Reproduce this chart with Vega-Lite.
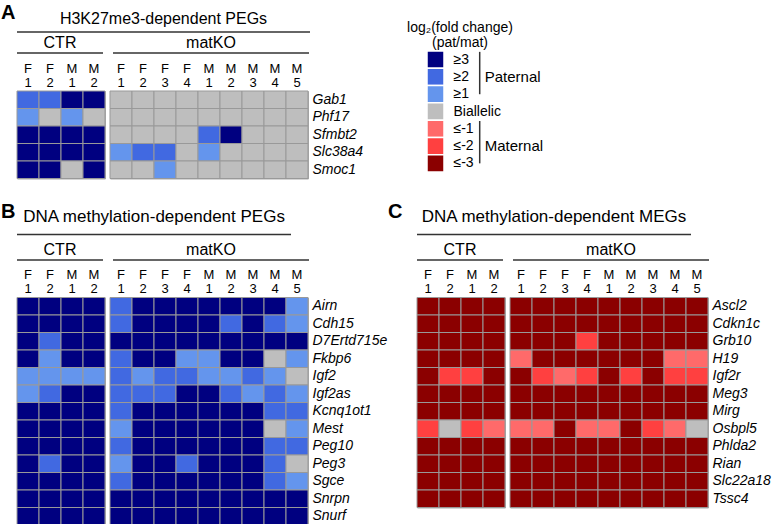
{
"$schema": "https://vega.github.io/schema/vega-lite/v6.json",
"padding": {"left": 1, "top": 3, "right": 5, "bottom": 0},
"config": {"font": "Liberation Sans", "view": {"stroke": null}, "axis": {"labelColor": "black"}, "concat": {"spacing": 0}},
"datasets": {
"cells": [
{"p":"A","g":"CTR","s":"F 1","n":"Gab1","v":2},{"p":"A","g":"CTR","s":"F 2","n":"Gab1","v":2},{"p":"A","g":"CTR","s":"M 1","n":"Gab1","v":3},{"p":"A","g":"CTR","s":"M 2","n":"Gab1","v":3},
{"p":"A","g":"CTR","s":"F 1","n":"Phf17","v":1},{"p":"A","g":"CTR","s":"F 2","n":"Phf17","v":0},{"p":"A","g":"CTR","s":"M 1","n":"Phf17","v":1},{"p":"A","g":"CTR","s":"M 2","n":"Phf17","v":0},
{"p":"A","g":"CTR","s":"F 1","n":"Sfmbt2","v":3},{"p":"A","g":"CTR","s":"F 2","n":"Sfmbt2","v":3},{"p":"A","g":"CTR","s":"M 1","n":"Sfmbt2","v":3},{"p":"A","g":"CTR","s":"M 2","n":"Sfmbt2","v":3},
{"p":"A","g":"CTR","s":"F 1","n":"Slc38a4","v":3},{"p":"A","g":"CTR","s":"F 2","n":"Slc38a4","v":3},{"p":"A","g":"CTR","s":"M 1","n":"Slc38a4","v":3},{"p":"A","g":"CTR","s":"M 2","n":"Slc38a4","v":3},
{"p":"A","g":"CTR","s":"F 1","n":"Smoc1","v":3},{"p":"A","g":"CTR","s":"F 2","n":"Smoc1","v":3},{"p":"A","g":"CTR","s":"M 1","n":"Smoc1","v":0},{"p":"A","g":"CTR","s":"M 2","n":"Smoc1","v":3},
{"p":"A","g":"matKO","s":"F 1","n":"Gab1","v":0},{"p":"A","g":"matKO","s":"F 2","n":"Gab1","v":0},{"p":"A","g":"matKO","s":"F 3","n":"Gab1","v":0},{"p":"A","g":"matKO","s":"F 4","n":"Gab1","v":0},{"p":"A","g":"matKO","s":"M 1","n":"Gab1","v":0},{"p":"A","g":"matKO","s":"M 2","n":"Gab1","v":0},{"p":"A","g":"matKO","s":"M 3","n":"Gab1","v":0},{"p":"A","g":"matKO","s":"M 4","n":"Gab1","v":0},{"p":"A","g":"matKO","s":"M 5","n":"Gab1","v":0},
{"p":"A","g":"matKO","s":"F 1","n":"Phf17","v":0},{"p":"A","g":"matKO","s":"F 2","n":"Phf17","v":0},{"p":"A","g":"matKO","s":"F 3","n":"Phf17","v":0},{"p":"A","g":"matKO","s":"F 4","n":"Phf17","v":0},{"p":"A","g":"matKO","s":"M 1","n":"Phf17","v":0},{"p":"A","g":"matKO","s":"M 2","n":"Phf17","v":0},{"p":"A","g":"matKO","s":"M 3","n":"Phf17","v":0},{"p":"A","g":"matKO","s":"M 4","n":"Phf17","v":0},{"p":"A","g":"matKO","s":"M 5","n":"Phf17","v":0},
{"p":"A","g":"matKO","s":"F 1","n":"Sfmbt2","v":0},{"p":"A","g":"matKO","s":"F 2","n":"Sfmbt2","v":0},{"p":"A","g":"matKO","s":"F 3","n":"Sfmbt2","v":0},{"p":"A","g":"matKO","s":"F 4","n":"Sfmbt2","v":0},{"p":"A","g":"matKO","s":"M 1","n":"Sfmbt2","v":2},{"p":"A","g":"matKO","s":"M 2","n":"Sfmbt2","v":3},{"p":"A","g":"matKO","s":"M 3","n":"Sfmbt2","v":0},{"p":"A","g":"matKO","s":"M 4","n":"Sfmbt2","v":0},{"p":"A","g":"matKO","s":"M 5","n":"Sfmbt2","v":0},
{"p":"A","g":"matKO","s":"F 1","n":"Slc38a4","v":1},{"p":"A","g":"matKO","s":"F 2","n":"Slc38a4","v":2},{"p":"A","g":"matKO","s":"F 3","n":"Slc38a4","v":2},{"p":"A","g":"matKO","s":"F 4","n":"Slc38a4","v":0},{"p":"A","g":"matKO","s":"M 1","n":"Slc38a4","v":1},{"p":"A","g":"matKO","s":"M 2","n":"Slc38a4","v":0},{"p":"A","g":"matKO","s":"M 3","n":"Slc38a4","v":0},{"p":"A","g":"matKO","s":"M 4","n":"Slc38a4","v":0},{"p":"A","g":"matKO","s":"M 5","n":"Slc38a4","v":0},
{"p":"A","g":"matKO","s":"F 1","n":"Smoc1","v":0},{"p":"A","g":"matKO","s":"F 2","n":"Smoc1","v":0},{"p":"A","g":"matKO","s":"F 3","n":"Smoc1","v":1},{"p":"A","g":"matKO","s":"F 4","n":"Smoc1","v":0},{"p":"A","g":"matKO","s":"M 1","n":"Smoc1","v":0},{"p":"A","g":"matKO","s":"M 2","n":"Smoc1","v":0},{"p":"A","g":"matKO","s":"M 3","n":"Smoc1","v":0},{"p":"A","g":"matKO","s":"M 4","n":"Smoc1","v":0},{"p":"A","g":"matKO","s":"M 5","n":"Smoc1","v":0},

{"p":"B","g":"CTR","s":"F 1","n":"Airn","v":3},{"p":"B","g":"CTR","s":"F 2","n":"Airn","v":3},{"p":"B","g":"CTR","s":"M 1","n":"Airn","v":3},{"p":"B","g":"CTR","s":"M 2","n":"Airn","v":3},
{"p":"B","g":"CTR","s":"F 1","n":"Cdh15","v":3},{"p":"B","g":"CTR","s":"F 2","n":"Cdh15","v":3},{"p":"B","g":"CTR","s":"M 1","n":"Cdh15","v":3},{"p":"B","g":"CTR","s":"M 2","n":"Cdh15","v":3},
{"p":"B","g":"CTR","s":"F 1","n":"D7Ertd715e","v":3},{"p":"B","g":"CTR","s":"F 2","n":"D7Ertd715e","v":2},{"p":"B","g":"CTR","s":"M 1","n":"D7Ertd715e","v":3},{"p":"B","g":"CTR","s":"M 2","n":"D7Ertd715e","v":3},
{"p":"B","g":"CTR","s":"F 1","n":"Fkbp6","v":3},{"p":"B","g":"CTR","s":"F 2","n":"Fkbp6","v":1},{"p":"B","g":"CTR","s":"M 1","n":"Fkbp6","v":3},{"p":"B","g":"CTR","s":"M 2","n":"Fkbp6","v":3},
{"p":"B","g":"CTR","s":"F 1","n":"Igf2","v":1},{"p":"B","g":"CTR","s":"F 2","n":"Igf2","v":1},{"p":"B","g":"CTR","s":"M 1","n":"Igf2","v":1},{"p":"B","g":"CTR","s":"M 2","n":"Igf2","v":1},
{"p":"B","g":"CTR","s":"F 1","n":"Igf2as","v":1},{"p":"B","g":"CTR","s":"F 2","n":"Igf2as","v":2},{"p":"B","g":"CTR","s":"M 1","n":"Igf2as","v":3},{"p":"B","g":"CTR","s":"M 2","n":"Igf2as","v":3},
{"p":"B","g":"CTR","s":"F 1","n":"Kcnq1ot1","v":3},{"p":"B","g":"CTR","s":"F 2","n":"Kcnq1ot1","v":3},{"p":"B","g":"CTR","s":"M 1","n":"Kcnq1ot1","v":3},{"p":"B","g":"CTR","s":"M 2","n":"Kcnq1ot1","v":3},
{"p":"B","g":"CTR","s":"F 1","n":"Mest","v":3},{"p":"B","g":"CTR","s":"F 2","n":"Mest","v":3},{"p":"B","g":"CTR","s":"M 1","n":"Mest","v":3},{"p":"B","g":"CTR","s":"M 2","n":"Mest","v":3},
{"p":"B","g":"CTR","s":"F 1","n":"Peg10","v":3},{"p":"B","g":"CTR","s":"F 2","n":"Peg10","v":3},{"p":"B","g":"CTR","s":"M 1","n":"Peg10","v":3},{"p":"B","g":"CTR","s":"M 2","n":"Peg10","v":3},
{"p":"B","g":"CTR","s":"F 1","n":"Peg3","v":3},{"p":"B","g":"CTR","s":"F 2","n":"Peg3","v":2},{"p":"B","g":"CTR","s":"M 1","n":"Peg3","v":3},{"p":"B","g":"CTR","s":"M 2","n":"Peg3","v":3},
{"p":"B","g":"CTR","s":"F 1","n":"Sgce","v":3},{"p":"B","g":"CTR","s":"F 2","n":"Sgce","v":3},{"p":"B","g":"CTR","s":"M 1","n":"Sgce","v":3},{"p":"B","g":"CTR","s":"M 2","n":"Sgce","v":3},
{"p":"B","g":"CTR","s":"F 1","n":"Snrpn","v":3},{"p":"B","g":"CTR","s":"F 2","n":"Snrpn","v":3},{"p":"B","g":"CTR","s":"M 1","n":"Snrpn","v":3},{"p":"B","g":"CTR","s":"M 2","n":"Snrpn","v":3},
{"p":"B","g":"CTR","s":"F 1","n":"Snurf","v":3},{"p":"B","g":"CTR","s":"F 2","n":"Snurf","v":3},{"p":"B","g":"CTR","s":"M 1","n":"Snurf","v":3},{"p":"B","g":"CTR","s":"M 2","n":"Snurf","v":3},
{"p":"B","g":"matKO","s":"F 1","n":"Airn","v":2},{"p":"B","g":"matKO","s":"F 2","n":"Airn","v":3},{"p":"B","g":"matKO","s":"F 3","n":"Airn","v":3},{"p":"B","g":"matKO","s":"F 4","n":"Airn","v":3},{"p":"B","g":"matKO","s":"M 1","n":"Airn","v":3},{"p":"B","g":"matKO","s":"M 2","n":"Airn","v":3},{"p":"B","g":"matKO","s":"M 3","n":"Airn","v":3},{"p":"B","g":"matKO","s":"M 4","n":"Airn","v":3},{"p":"B","g":"matKO","s":"M 5","n":"Airn","v":1},
{"p":"B","g":"matKO","s":"F 1","n":"Cdh15","v":2},{"p":"B","g":"matKO","s":"F 2","n":"Cdh15","v":3},{"p":"B","g":"matKO","s":"F 3","n":"Cdh15","v":3},{"p":"B","g":"matKO","s":"F 4","n":"Cdh15","v":3},{"p":"B","g":"matKO","s":"M 1","n":"Cdh15","v":3},{"p":"B","g":"matKO","s":"M 2","n":"Cdh15","v":2},{"p":"B","g":"matKO","s":"M 3","n":"Cdh15","v":3},{"p":"B","g":"matKO","s":"M 4","n":"Cdh15","v":2},{"p":"B","g":"matKO","s":"M 5","n":"Cdh15","v":1},
{"p":"B","g":"matKO","s":"F 1","n":"D7Ertd715e","v":3},{"p":"B","g":"matKO","s":"F 2","n":"D7Ertd715e","v":3},{"p":"B","g":"matKO","s":"F 3","n":"D7Ertd715e","v":3},{"p":"B","g":"matKO","s":"F 4","n":"D7Ertd715e","v":3},{"p":"B","g":"matKO","s":"M 1","n":"D7Ertd715e","v":3},{"p":"B","g":"matKO","s":"M 2","n":"D7Ertd715e","v":3},{"p":"B","g":"matKO","s":"M 3","n":"D7Ertd715e","v":3},{"p":"B","g":"matKO","s":"M 4","n":"D7Ertd715e","v":3},{"p":"B","g":"matKO","s":"M 5","n":"D7Ertd715e","v":3},
{"p":"B","g":"matKO","s":"F 1","n":"Fkbp6","v":2},{"p":"B","g":"matKO","s":"F 2","n":"Fkbp6","v":3},{"p":"B","g":"matKO","s":"F 3","n":"Fkbp6","v":3},{"p":"B","g":"matKO","s":"F 4","n":"Fkbp6","v":1},{"p":"B","g":"matKO","s":"M 1","n":"Fkbp6","v":1},{"p":"B","g":"matKO","s":"M 2","n":"Fkbp6","v":3},{"p":"B","g":"matKO","s":"M 3","n":"Fkbp6","v":3},{"p":"B","g":"matKO","s":"M 4","n":"Fkbp6","v":0},{"p":"B","g":"matKO","s":"M 5","n":"Fkbp6","v":1},
{"p":"B","g":"matKO","s":"F 1","n":"Igf2","v":2},{"p":"B","g":"matKO","s":"F 2","n":"Igf2","v":1},{"p":"B","g":"matKO","s":"F 3","n":"Igf2","v":2},{"p":"B","g":"matKO","s":"F 4","n":"Igf2","v":2},{"p":"B","g":"matKO","s":"M 1","n":"Igf2","v":1},{"p":"B","g":"matKO","s":"M 2","n":"Igf2","v":1},{"p":"B","g":"matKO","s":"M 3","n":"Igf2","v":2},{"p":"B","g":"matKO","s":"M 4","n":"Igf2","v":1},{"p":"B","g":"matKO","s":"M 5","n":"Igf2","v":0},
{"p":"B","g":"matKO","s":"F 1","n":"Igf2as","v":2},{"p":"B","g":"matKO","s":"F 2","n":"Igf2as","v":2},{"p":"B","g":"matKO","s":"F 3","n":"Igf2as","v":2},{"p":"B","g":"matKO","s":"F 4","n":"Igf2as","v":3},{"p":"B","g":"matKO","s":"M 1","n":"Igf2as","v":3},{"p":"B","g":"matKO","s":"M 2","n":"Igf2as","v":2},{"p":"B","g":"matKO","s":"M 3","n":"Igf2as","v":1},{"p":"B","g":"matKO","s":"M 4","n":"Igf2as","v":2},{"p":"B","g":"matKO","s":"M 5","n":"Igf2as","v":1},
{"p":"B","g":"matKO","s":"F 1","n":"Kcnq1ot1","v":2},{"p":"B","g":"matKO","s":"F 2","n":"Kcnq1ot1","v":3},{"p":"B","g":"matKO","s":"F 3","n":"Kcnq1ot1","v":3},{"p":"B","g":"matKO","s":"F 4","n":"Kcnq1ot1","v":3},{"p":"B","g":"matKO","s":"M 1","n":"Kcnq1ot1","v":3},{"p":"B","g":"matKO","s":"M 2","n":"Kcnq1ot1","v":3},{"p":"B","g":"matKO","s":"M 3","n":"Kcnq1ot1","v":3},{"p":"B","g":"matKO","s":"M 4","n":"Kcnq1ot1","v":2},{"p":"B","g":"matKO","s":"M 5","n":"Kcnq1ot1","v":2},
{"p":"B","g":"matKO","s":"F 1","n":"Mest","v":1},{"p":"B","g":"matKO","s":"F 2","n":"Mest","v":3},{"p":"B","g":"matKO","s":"F 3","n":"Mest","v":3},{"p":"B","g":"matKO","s":"F 4","n":"Mest","v":3},{"p":"B","g":"matKO","s":"M 1","n":"Mest","v":3},{"p":"B","g":"matKO","s":"M 2","n":"Mest","v":3},{"p":"B","g":"matKO","s":"M 3","n":"Mest","v":3},{"p":"B","g":"matKO","s":"M 4","n":"Mest","v":0},{"p":"B","g":"matKO","s":"M 5","n":"Mest","v":1},
{"p":"B","g":"matKO","s":"F 1","n":"Peg10","v":2},{"p":"B","g":"matKO","s":"F 2","n":"Peg10","v":3},{"p":"B","g":"matKO","s":"F 3","n":"Peg10","v":3},{"p":"B","g":"matKO","s":"F 4","n":"Peg10","v":3},{"p":"B","g":"matKO","s":"M 1","n":"Peg10","v":3},{"p":"B","g":"matKO","s":"M 2","n":"Peg10","v":3},{"p":"B","g":"matKO","s":"M 3","n":"Peg10","v":3},{"p":"B","g":"matKO","s":"M 4","n":"Peg10","v":2},{"p":"B","g":"matKO","s":"M 5","n":"Peg10","v":2},
{"p":"B","g":"matKO","s":"F 1","n":"Peg3","v":1},{"p":"B","g":"matKO","s":"F 2","n":"Peg3","v":3},{"p":"B","g":"matKO","s":"F 3","n":"Peg3","v":3},{"p":"B","g":"matKO","s":"F 4","n":"Peg3","v":2},{"p":"B","g":"matKO","s":"M 1","n":"Peg3","v":3},{"p":"B","g":"matKO","s":"M 2","n":"Peg3","v":3},{"p":"B","g":"matKO","s":"M 3","n":"Peg3","v":3},{"p":"B","g":"matKO","s":"M 4","n":"Peg3","v":2},{"p":"B","g":"matKO","s":"M 5","n":"Peg3","v":0},
{"p":"B","g":"matKO","s":"F 1","n":"Sgce","v":2},{"p":"B","g":"matKO","s":"F 2","n":"Sgce","v":3},{"p":"B","g":"matKO","s":"F 3","n":"Sgce","v":3},{"p":"B","g":"matKO","s":"F 4","n":"Sgce","v":3},{"p":"B","g":"matKO","s":"M 1","n":"Sgce","v":3},{"p":"B","g":"matKO","s":"M 2","n":"Sgce","v":3},{"p":"B","g":"matKO","s":"M 3","n":"Sgce","v":3},{"p":"B","g":"matKO","s":"M 4","n":"Sgce","v":2},{"p":"B","g":"matKO","s":"M 5","n":"Sgce","v":1},
{"p":"B","g":"matKO","s":"F 1","n":"Snrpn","v":3},{"p":"B","g":"matKO","s":"F 2","n":"Snrpn","v":3},{"p":"B","g":"matKO","s":"F 3","n":"Snrpn","v":3},{"p":"B","g":"matKO","s":"F 4","n":"Snrpn","v":3},{"p":"B","g":"matKO","s":"M 1","n":"Snrpn","v":3},{"p":"B","g":"matKO","s":"M 2","n":"Snrpn","v":3},{"p":"B","g":"matKO","s":"M 3","n":"Snrpn","v":3},{"p":"B","g":"matKO","s":"M 4","n":"Snrpn","v":3},{"p":"B","g":"matKO","s":"M 5","n":"Snrpn","v":3},
{"p":"B","g":"matKO","s":"F 1","n":"Snurf","v":3},{"p":"B","g":"matKO","s":"F 2","n":"Snurf","v":3},{"p":"B","g":"matKO","s":"F 3","n":"Snurf","v":3},{"p":"B","g":"matKO","s":"F 4","n":"Snurf","v":3},{"p":"B","g":"matKO","s":"M 1","n":"Snurf","v":3},{"p":"B","g":"matKO","s":"M 2","n":"Snurf","v":3},{"p":"B","g":"matKO","s":"M 3","n":"Snurf","v":3},{"p":"B","g":"matKO","s":"M 4","n":"Snurf","v":3},{"p":"B","g":"matKO","s":"M 5","n":"Snurf","v":3},

{"p":"C","g":"CTR","s":"F 1","n":"Ascl2","v":-3},{"p":"C","g":"CTR","s":"F 2","n":"Ascl2","v":-3},{"p":"C","g":"CTR","s":"M 1","n":"Ascl2","v":-3},{"p":"C","g":"CTR","s":"M 2","n":"Ascl2","v":-3},
{"p":"C","g":"CTR","s":"F 1","n":"Cdkn1c","v":-3},{"p":"C","g":"CTR","s":"F 2","n":"Cdkn1c","v":-3},{"p":"C","g":"CTR","s":"M 1","n":"Cdkn1c","v":-3},{"p":"C","g":"CTR","s":"M 2","n":"Cdkn1c","v":-3},
{"p":"C","g":"CTR","s":"F 1","n":"Grb10","v":-3},{"p":"C","g":"CTR","s":"F 2","n":"Grb10","v":-3},{"p":"C","g":"CTR","s":"M 1","n":"Grb10","v":-3},{"p":"C","g":"CTR","s":"M 2","n":"Grb10","v":-3},
{"p":"C","g":"CTR","s":"F 1","n":"H19","v":-3},{"p":"C","g":"CTR","s":"F 2","n":"H19","v":-3},{"p":"C","g":"CTR","s":"M 1","n":"H19","v":-3},{"p":"C","g":"CTR","s":"M 2","n":"H19","v":-3},
{"p":"C","g":"CTR","s":"F 1","n":"Igf2r","v":-3},{"p":"C","g":"CTR","s":"F 2","n":"Igf2r","v":-2},{"p":"C","g":"CTR","s":"M 1","n":"Igf2r","v":-2},{"p":"C","g":"CTR","s":"M 2","n":"Igf2r","v":-3},
{"p":"C","g":"CTR","s":"F 1","n":"Meg3","v":-3},{"p":"C","g":"CTR","s":"F 2","n":"Meg3","v":-3},{"p":"C","g":"CTR","s":"M 1","n":"Meg3","v":-3},{"p":"C","g":"CTR","s":"M 2","n":"Meg3","v":-3},
{"p":"C","g":"CTR","s":"F 1","n":"Mirg","v":-3},{"p":"C","g":"CTR","s":"F 2","n":"Mirg","v":-3},{"p":"C","g":"CTR","s":"M 1","n":"Mirg","v":-3},{"p":"C","g":"CTR","s":"M 2","n":"Mirg","v":-3},
{"p":"C","g":"CTR","s":"F 1","n":"Osbpl5","v":-2},{"p":"C","g":"CTR","s":"F 2","n":"Osbpl5","v":0},{"p":"C","g":"CTR","s":"M 1","n":"Osbpl5","v":-2},{"p":"C","g":"CTR","s":"M 2","n":"Osbpl5","v":-1},
{"p":"C","g":"CTR","s":"F 1","n":"Phlda2","v":-3},{"p":"C","g":"CTR","s":"F 2","n":"Phlda2","v":-3},{"p":"C","g":"CTR","s":"M 1","n":"Phlda2","v":-3},{"p":"C","g":"CTR","s":"M 2","n":"Phlda2","v":-3},
{"p":"C","g":"CTR","s":"F 1","n":"Rian","v":-3},{"p":"C","g":"CTR","s":"F 2","n":"Rian","v":-3},{"p":"C","g":"CTR","s":"M 1","n":"Rian","v":-3},{"p":"C","g":"CTR","s":"M 2","n":"Rian","v":-3},
{"p":"C","g":"CTR","s":"F 1","n":"Slc22a18","v":-3},{"p":"C","g":"CTR","s":"F 2","n":"Slc22a18","v":-3},{"p":"C","g":"CTR","s":"M 1","n":"Slc22a18","v":-3},{"p":"C","g":"CTR","s":"M 2","n":"Slc22a18","v":-3},
{"p":"C","g":"CTR","s":"F 1","n":"Tssc4","v":-3},{"p":"C","g":"CTR","s":"F 2","n":"Tssc4","v":-3},{"p":"C","g":"CTR","s":"M 1","n":"Tssc4","v":-3},{"p":"C","g":"CTR","s":"M 2","n":"Tssc4","v":-3},
{"p":"C","g":"matKO","s":"F 1","n":"Ascl2","v":-3},{"p":"C","g":"matKO","s":"F 2","n":"Ascl2","v":-3},{"p":"C","g":"matKO","s":"F 3","n":"Ascl2","v":-3},{"p":"C","g":"matKO","s":"F 4","n":"Ascl2","v":-3},{"p":"C","g":"matKO","s":"M 1","n":"Ascl2","v":-3},{"p":"C","g":"matKO","s":"M 2","n":"Ascl2","v":-3},{"p":"C","g":"matKO","s":"M 3","n":"Ascl2","v":-3},{"p":"C","g":"matKO","s":"M 4","n":"Ascl2","v":-3},{"p":"C","g":"matKO","s":"M 5","n":"Ascl2","v":-3},
{"p":"C","g":"matKO","s":"F 1","n":"Cdkn1c","v":-3},{"p":"C","g":"matKO","s":"F 2","n":"Cdkn1c","v":-3},{"p":"C","g":"matKO","s":"F 3","n":"Cdkn1c","v":-3},{"p":"C","g":"matKO","s":"F 4","n":"Cdkn1c","v":-3},{"p":"C","g":"matKO","s":"M 1","n":"Cdkn1c","v":-3},{"p":"C","g":"matKO","s":"M 2","n":"Cdkn1c","v":-3},{"p":"C","g":"matKO","s":"M 3","n":"Cdkn1c","v":-3},{"p":"C","g":"matKO","s":"M 4","n":"Cdkn1c","v":-3},{"p":"C","g":"matKO","s":"M 5","n":"Cdkn1c","v":-3},
{"p":"C","g":"matKO","s":"F 1","n":"Grb10","v":-3},{"p":"C","g":"matKO","s":"F 2","n":"Grb10","v":-3},{"p":"C","g":"matKO","s":"F 3","n":"Grb10","v":-3},{"p":"C","g":"matKO","s":"F 4","n":"Grb10","v":-2},{"p":"C","g":"matKO","s":"M 1","n":"Grb10","v":-3},{"p":"C","g":"matKO","s":"M 2","n":"Grb10","v":-3},{"p":"C","g":"matKO","s":"M 3","n":"Grb10","v":-3},{"p":"C","g":"matKO","s":"M 4","n":"Grb10","v":-3},{"p":"C","g":"matKO","s":"M 5","n":"Grb10","v":-3},
{"p":"C","g":"matKO","s":"F 1","n":"H19","v":-1},{"p":"C","g":"matKO","s":"F 2","n":"H19","v":-3},{"p":"C","g":"matKO","s":"F 3","n":"H19","v":-3},{"p":"C","g":"matKO","s":"F 4","n":"H19","v":-3},{"p":"C","g":"matKO","s":"M 1","n":"H19","v":-3},{"p":"C","g":"matKO","s":"M 2","n":"H19","v":-3},{"p":"C","g":"matKO","s":"M 3","n":"H19","v":-3},{"p":"C","g":"matKO","s":"M 4","n":"H19","v":-1},{"p":"C","g":"matKO","s":"M 5","n":"H19","v":-1},
{"p":"C","g":"matKO","s":"F 1","n":"Igf2r","v":-3},{"p":"C","g":"matKO","s":"F 2","n":"Igf2r","v":-2},{"p":"C","g":"matKO","s":"F 3","n":"Igf2r","v":-1},{"p":"C","g":"matKO","s":"F 4","n":"Igf2r","v":-2},{"p":"C","g":"matKO","s":"M 1","n":"Igf2r","v":-3},{"p":"C","g":"matKO","s":"M 2","n":"Igf2r","v":-2},{"p":"C","g":"matKO","s":"M 3","n":"Igf2r","v":-3},{"p":"C","g":"matKO","s":"M 4","n":"Igf2r","v":-2},{"p":"C","g":"matKO","s":"M 5","n":"Igf2r","v":-2},
{"p":"C","g":"matKO","s":"F 1","n":"Meg3","v":-3},{"p":"C","g":"matKO","s":"F 2","n":"Meg3","v":-3},{"p":"C","g":"matKO","s":"F 3","n":"Meg3","v":-3},{"p":"C","g":"matKO","s":"F 4","n":"Meg3","v":-3},{"p":"C","g":"matKO","s":"M 1","n":"Meg3","v":-3},{"p":"C","g":"matKO","s":"M 2","n":"Meg3","v":-3},{"p":"C","g":"matKO","s":"M 3","n":"Meg3","v":-3},{"p":"C","g":"matKO","s":"M 4","n":"Meg3","v":-3},{"p":"C","g":"matKO","s":"M 5","n":"Meg3","v":-3},
{"p":"C","g":"matKO","s":"F 1","n":"Mirg","v":-3},{"p":"C","g":"matKO","s":"F 2","n":"Mirg","v":-3},{"p":"C","g":"matKO","s":"F 3","n":"Mirg","v":-3},{"p":"C","g":"matKO","s":"F 4","n":"Mirg","v":-3},{"p":"C","g":"matKO","s":"M 1","n":"Mirg","v":-3},{"p":"C","g":"matKO","s":"M 2","n":"Mirg","v":-3},{"p":"C","g":"matKO","s":"M 3","n":"Mirg","v":-3},{"p":"C","g":"matKO","s":"M 4","n":"Mirg","v":-3},{"p":"C","g":"matKO","s":"M 5","n":"Mirg","v":-3},
{"p":"C","g":"matKO","s":"F 1","n":"Osbpl5","v":-1},{"p":"C","g":"matKO","s":"F 2","n":"Osbpl5","v":-1},{"p":"C","g":"matKO","s":"F 3","n":"Osbpl5","v":-3},{"p":"C","g":"matKO","s":"F 4","n":"Osbpl5","v":-1},{"p":"C","g":"matKO","s":"M 1","n":"Osbpl5","v":-1},{"p":"C","g":"matKO","s":"M 2","n":"Osbpl5","v":-3},{"p":"C","g":"matKO","s":"M 3","n":"Osbpl5","v":-2},{"p":"C","g":"matKO","s":"M 4","n":"Osbpl5","v":-1},{"p":"C","g":"matKO","s":"M 5","n":"Osbpl5","v":0},
{"p":"C","g":"matKO","s":"F 1","n":"Phlda2","v":-3},{"p":"C","g":"matKO","s":"F 2","n":"Phlda2","v":-3},{"p":"C","g":"matKO","s":"F 3","n":"Phlda2","v":-3},{"p":"C","g":"matKO","s":"F 4","n":"Phlda2","v":-3},{"p":"C","g":"matKO","s":"M 1","n":"Phlda2","v":-3},{"p":"C","g":"matKO","s":"M 2","n":"Phlda2","v":-3},{"p":"C","g":"matKO","s":"M 3","n":"Phlda2","v":-3},{"p":"C","g":"matKO","s":"M 4","n":"Phlda2","v":-3},{"p":"C","g":"matKO","s":"M 5","n":"Phlda2","v":-3},
{"p":"C","g":"matKO","s":"F 1","n":"Rian","v":-3},{"p":"C","g":"matKO","s":"F 2","n":"Rian","v":-3},{"p":"C","g":"matKO","s":"F 3","n":"Rian","v":-3},{"p":"C","g":"matKO","s":"F 4","n":"Rian","v":-3},{"p":"C","g":"matKO","s":"M 1","n":"Rian","v":-3},{"p":"C","g":"matKO","s":"M 2","n":"Rian","v":-3},{"p":"C","g":"matKO","s":"M 3","n":"Rian","v":-3},{"p":"C","g":"matKO","s":"M 4","n":"Rian","v":-3},{"p":"C","g":"matKO","s":"M 5","n":"Rian","v":-3},
{"p":"C","g":"matKO","s":"F 1","n":"Slc22a18","v":-3},{"p":"C","g":"matKO","s":"F 2","n":"Slc22a18","v":-3},{"p":"C","g":"matKO","s":"F 3","n":"Slc22a18","v":-3},{"p":"C","g":"matKO","s":"F 4","n":"Slc22a18","v":-3},{"p":"C","g":"matKO","s":"M 1","n":"Slc22a18","v":-3},{"p":"C","g":"matKO","s":"M 2","n":"Slc22a18","v":-3},{"p":"C","g":"matKO","s":"M 3","n":"Slc22a18","v":-3},{"p":"C","g":"matKO","s":"M 4","n":"Slc22a18","v":-3},{"p":"C","g":"matKO","s":"M 5","n":"Slc22a18","v":-3},
{"p":"C","g":"matKO","s":"F 1","n":"Tssc4","v":-3},{"p":"C","g":"matKO","s":"F 2","n":"Tssc4","v":-3},{"p":"C","g":"matKO","s":"F 3","n":"Tssc4","v":-3},{"p":"C","g":"matKO","s":"F 4","n":"Tssc4","v":-3},{"p":"C","g":"matKO","s":"M 1","n":"Tssc4","v":-3},{"p":"C","g":"matKO","s":"M 2","n":"Tssc4","v":-3},{"p":"C","g":"matKO","s":"M 3","n":"Tssc4","v":-3},{"p":"C","g":"matKO","s":"M 4","n":"Tssc4","v":-3},{"p":"C","g":"matKO","s":"M 5","n":"Tssc4","v":-3}
],
"samplesCTR": [{"s":"F 1"},{"s":"F 2"},{"s":"M 1"},{"s":"M 2"}],
"samplesKO": [{"s":"F 1"},{"s":"F 2"},{"s":"F 3"},{"s":"F 4"},{"s":"M 1"},{"s":"M 2"},{"s":"M 3"},{"s":"M 4"},{"s":"M 5"}]
},
"spacing": 21.5,
"vconcat": [
{
"spacing": 40,
"hconcat": [
{
"title": {"text": "A", "orient": "left", "anchor": "end", "angle": 0, "fontSize": 20, "fontWeight": "bold", "align": "right", "baseline": "top", "offset": -14, "dy": -5},
"spacing": 0,
"vconcat": [
{"width": 293, "height": 23, "data": {"values": [{"t": "H3K27me3-dependent PEGs"}]}, "mark": {"type": "text", "fontSize": 16, "baseline": "middle", "dy": -2}, "encoding": {"text": {"field": "t"}}, "view": {"stroke": "#333333", "strokeWidth": 1.5, "strokeDash": [0, 316, 293, 23]}},
{"bounds": "flush", "spacing": 10, "hconcat": [
{"width": 86, "height": 19, "data": {"values": [{"t": "CTR"}]}, "mark": {"type": "text", "fontSize": 16, "baseline": "middle", "dy": -1}, "encoding": {"text": {"field": "t"}}, "view": {"stroke": "#333333", "strokeWidth": 1.5, "strokeDash": [0, 105, 86, 19]}},
{"width": 196, "height": 19, "data": {"values": [{"t": "matKO"}]}, "mark": {"type": "text", "fontSize": 16, "baseline": "middle", "dy": -1}, "encoding": {"text": {"field": "t"}}, "view": {"stroke": "#333333", "strokeWidth": 1.5, "strokeDash": [0, 215, 196, 19]}}
]},
{"bounds": "flush", "spacing": 5, "hconcat": [
{"width": 88, "height": 27.5, "data": {"name": "samplesCTR"}, "mark": {"type": "text", "fontSize": 13, "lineBreak": " ", "lineHeight": 14, "baseline": "middle", "dy": 1}, "encoding": {"x": {"field": "s", "type": "nominal", "axis": null}, "text": {"field": "s"}}},
{"width": 198, "height": 27.5, "data": {"name": "samplesKO"}, "mark": {"type": "text", "fontSize": 13, "lineBreak": " ", "lineHeight": 14, "baseline": "middle", "dy": 1}, "encoding": {"x": {"field": "s", "type": "nominal", "axis": null}, "text": {"field": "s"}}}
]},
{"bounds": "flush", "spacing": 5, "hconcat": [
{"width": 88, "height": 87.5, "data": {"name": "cells"}, "transform": [{"filter": "datum.p=='A' && datum.g=='CTR'"}],
 "mark": {"type": "rect", "stroke": "#999999", "strokeWidth": 1},
 "encoding": {
  "x": {"field": "s", "type": "nominal", "axis": null},
  "y": {"field": "n", "type": "nominal", "sort": null, "axis": null},
  "color": {"field": "v", "type": "ordinal", "scale": {"domain": [3,2,1,0,-1,-2,-3], "range": ["#000080","#4169E1","#6495ED","#BEBEBE","#FF6A6A","#FF4040","#8B0000"]}, "legend": null}
 }, "view": {"stroke": "#aaaaaa"}},
{"width": 198, "height": 87.5, "data": {"name": "cells"}, "transform": [{"filter": "datum.p=='A' && datum.g=='matKO'"}],
 "mark": {"type": "rect", "stroke": "#999999", "strokeWidth": 1},
 "encoding": {
  "x": {"field": "s", "type": "nominal", "axis": null},
  "y": {"field": "n", "type": "nominal", "sort": null, "axis": {"orient": "right", "title": null, "domain": false, "ticks": false, "labelPadding": 4, "labelFontSize": 14, "labelFontStyle": "italic"}},
  "color": {"field": "v", "type": "ordinal", "scale": {"domain": [3,2,1,0,-1,-2,-3], "range": ["#000080","#4169E1","#6495ED","#BEBEBE","#FF6A6A","#FF4040","#8B0000"]}, "legend": null}
 }, "view": {"stroke": "#aaaaaa"}}
]}
]
},
{
"spacing": 0,
"vconcat": [
{"width": 112, "height": 41, "data": {"values": [{"t": "log₂(fold change)\n(pat/mat)"}]}, "mark": {"type": "text", "fontSize": 14, "lineBreak": "\n", "lineHeight": 15, "baseline": "middle", "dy": -1.5}, "encoding": {"text": {"field": "t"}}},
{"bounds": "flush", "spacing": 34.7, "hconcat": [
{"width": 40, "height": 121, "data": {"values": [{"lab": "≥3", "v": 3}, {"lab": "≥2", "v": 2}, {"lab": "≥1", "v": 1}, {"lab": "Biallelic", "v": 0}, {"lab": "≤-1", "v": -1}, {"lab": "≤-2", "v": -2}, {"lab": "≤-3", "v": -3}]},
 "mark": {"type": "rect", "stroke": "white", "strokeWidth": 1.5},
 "encoding": {
  "x": {"datum": "swatch", "type": "nominal", "scale": {"domain": ["swatch"], "paddingInner": 0, "paddingOuter": 0.6765, "align": 1}, "axis": null},
  "y": {"field": "lab", "type": "nominal", "sort": null, "axis": {"orient": "right", "title": null, "domain": false, "ticks": false, "labelPadding": 9, "labelFontSize": 14}},
  "color": {"field": "v", "type": "ordinal", "scale": {"domain": [3,2,1,0,-1,-2,-3], "range": ["#000080","#4169E1","#6495ED","#BEBEBE","#FF6A6A","#FF4040","#8B0000"]}, "legend": null}
 }},
{"width": 2, "height": 121, "data": {"values": [{"side": "Paternal", "a": "≥3", "b": "≥1", "m": "≥2"}, {"side": "Maternal", "a": "≤-1", "b": "≤-3", "m": "≤-2"}]},
 "layer": [
  {"mark": {"type": "rule", "strokeWidth": 1.5, "color": "#333333"}, "encoding": {"y": {"field": "a", "type": "nominal", "bandPosition": 0.05, "scale": {"domain": ["≥3","≥2","≥1","Biallelic","≤-1","≤-2","≤-3"]}, "axis": null}, "y2": {"field": "b"}}},
  {"mark": {"type": "text", "align": "left", "dx": 5, "fontSize": 15, "baseline": "middle"}, "encoding": {"y": {"field": "m", "type": "nominal", "scale": {"domain": ["≥3","≥2","≥1","Biallelic","≤-1","≤-2","≤-3"]}, "axis": null}, "text": {"field": "side"}}}
 ]}
]}
]
}
]
},
{
"spacing": 0,
"hconcat": [
{
"title": {"text": "B", "orient": "left", "anchor": "end", "angle": 0, "fontSize": 20, "fontWeight": "bold", "align": "right", "baseline": "top", "offset": -14, "dy": -5},
"spacing": 0,
"vconcat": [
{"width": 274, "height": 23, "data": {"values": [{"t": "DNA methylation-dependent PEGs"}]}, "mark": {"type": "text", "fontSize": 17, "baseline": "middle", "dy": -6}, "encoding": {"text": {"field": "t"}}, "view": {"stroke": "#333333", "strokeWidth": 1.5, "strokeDash": [0, 297, 274, 23]}},
{"bounds": "flush", "spacing": 10, "hconcat": [
{"width": 86, "height": 23.5, "data": {"values": [{"t": "CTR"}]}, "mark": {"type": "text", "fontSize": 16, "baseline": "middle", "dy": 2}, "encoding": {"text": {"field": "t"}}, "view": {"stroke": "#333333", "strokeWidth": 1.5, "strokeDash": [0, 109.5, 86, 23.5]}},
{"width": 196, "height": 23.5, "data": {"values": [{"t": "matKO"}]}, "mark": {"type": "text", "fontSize": 16, "baseline": "middle", "dy": 2}, "encoding": {"text": {"field": "t"}}, "view": {"stroke": "#333333", "strokeWidth": 1.5, "strokeDash": [0, 219.5, 196, 23.5]}}
]},
{"bounds": "flush", "spacing": 5, "hconcat": [
{"width": 88, "height": 30.5, "data": {"name": "samplesCTR"}, "mark": {"type": "text", "fontSize": 13, "lineBreak": " ", "lineHeight": 14, "baseline": "middle", "dy": -1.5}, "encoding": {"x": {"field": "s", "type": "nominal", "axis": null}, "text": {"field": "s"}}},
{"width": 198, "height": 30.5, "data": {"name": "samplesKO"}, "mark": {"type": "text", "fontSize": 13, "lineBreak": " ", "lineHeight": 14, "baseline": "middle", "dy": -1.5}, "encoding": {"x": {"field": "s", "type": "nominal", "axis": null}, "text": {"field": "s"}}}
]},
{"bounds": "flush", "spacing": 5, "hconcat": [
{"width": 88, "height": 227.5, "data": {"name": "cells"}, "transform": [{"filter": "datum.p=='B' && datum.g=='CTR'"}],
 "mark": {"type": "rect", "stroke": "#999999", "strokeWidth": 1},
 "encoding": {
  "x": {"field": "s", "type": "nominal", "axis": null},
  "y": {"field": "n", "type": "nominal", "sort": null, "axis": null},
  "color": {"field": "v", "type": "ordinal", "scale": {"domain": [3,2,1,0,-1,-2,-3], "range": ["#000080","#4169E1","#6495ED","#BEBEBE","#FF6A6A","#FF4040","#8B0000"]}, "legend": null}
 }, "view": {"stroke": "#aaaaaa"}},
{"width": 198, "height": 227.5, "data": {"name": "cells"}, "transform": [{"filter": "datum.p=='B' && datum.g=='matKO'"}],
 "mark": {"type": "rect", "stroke": "#999999", "strokeWidth": 1},
 "encoding": {
  "x": {"field": "s", "type": "nominal", "axis": null},
  "y": {"field": "n", "type": "nominal", "sort": null, "axis": {"orient": "right", "title": null, "domain": false, "ticks": false, "labelPadding": 4, "labelFontSize": 14, "labelFontStyle": "italic"}},
  "color": {"field": "v", "type": "ordinal", "scale": {"domain": [3,2,1,0,-1,-2,-3], "range": ["#000080","#4169E1","#6495ED","#BEBEBE","#FF6A6A","#FF4040","#8B0000"]}, "legend": null}
 }, "view": {"stroke": "#aaaaaa"}}
]}
]
},
{
"title": {"text": "C", "orient": "left", "anchor": "end", "angle": 0, "fontSize": 20, "fontWeight": "bold", "align": "right", "baseline": "top", "offset": -1, "dy": -5},
"spacing": 0,
"vconcat": [
{"width": 274, "height": 23, "data": {"values": [{"t": "DNA methylation-dependent MEGs"}]}, "mark": {"type": "text", "fontSize": 17, "baseline": "middle", "dy": -6}, "encoding": {"text": {"field": "t"}}, "view": {"stroke": "#333333", "strokeWidth": 1.5, "strokeDash": [0, 297, 274, 23]}},
{"bounds": "flush", "spacing": 10, "hconcat": [
{"width": 86, "height": 23.5, "data": {"values": [{"t": "CTR"}]}, "mark": {"type": "text", "fontSize": 16, "baseline": "middle", "dy": 2}, "encoding": {"text": {"field": "t"}}, "view": {"stroke": "#333333", "strokeWidth": 1.5, "strokeDash": [0, 109.5, 86, 23.5]}},
{"width": 196, "height": 23.5, "data": {"values": [{"t": "matKO"}]}, "mark": {"type": "text", "fontSize": 16, "baseline": "middle", "dy": 2}, "encoding": {"text": {"field": "t"}}, "view": {"stroke": "#333333", "strokeWidth": 1.5, "strokeDash": [0, 219.5, 196, 23.5]}}
]},
{"bounds": "flush", "spacing": 5, "hconcat": [
{"width": 88, "height": 30.5, "data": {"name": "samplesCTR"}, "mark": {"type": "text", "fontSize": 13, "lineBreak": " ", "lineHeight": 14, "baseline": "middle", "dy": -1.5}, "encoding": {"x": {"field": "s", "type": "nominal", "axis": null}, "text": {"field": "s"}}},
{"width": 198, "height": 30.5, "data": {"name": "samplesKO"}, "mark": {"type": "text", "fontSize": 13, "lineBreak": " ", "lineHeight": 14, "baseline": "middle", "dy": -1.5}, "encoding": {"x": {"field": "s", "type": "nominal", "axis": null}, "text": {"field": "s"}}}
]},
{"bounds": "flush", "spacing": 5, "hconcat": [
{"width": 88, "height": 210, "data": {"name": "cells"}, "transform": [{"filter": "datum.p=='C' && datum.g=='CTR'"}],
 "mark": {"type": "rect", "stroke": "#999999", "strokeWidth": 1},
 "encoding": {
  "x": {"field": "s", "type": "nominal", "axis": null},
  "y": {"field": "n", "type": "nominal", "sort": null, "axis": null},
  "color": {"field": "v", "type": "ordinal", "scale": {"domain": [3,2,1,0,-1,-2,-3], "range": ["#000080","#4169E1","#6495ED","#BEBEBE","#FF6A6A","#FF4040","#8B0000"]}, "legend": null}
 }, "view": {"stroke": "#aaaaaa"}},
{"width": 198, "height": 210, "data": {"name": "cells"}, "transform": [{"filter": "datum.p=='C' && datum.g=='matKO'"}],
 "mark": {"type": "rect", "stroke": "#999999", "strokeWidth": 1},
 "encoding": {
  "x": {"field": "s", "type": "nominal", "axis": null},
  "y": {"field": "n", "type": "nominal", "sort": null, "axis": {"orient": "right", "title": null, "domain": false, "ticks": false, "labelPadding": 4, "labelFontSize": 14, "labelFontStyle": "italic"}},
  "color": {"field": "v", "type": "ordinal", "scale": {"domain": [3,2,1,0,-1,-2,-3], "range": ["#000080","#4169E1","#6495ED","#BEBEBE","#FF6A6A","#FF4040","#8B0000"]}, "legend": null}
 }, "view": {"stroke": "#aaaaaa"}}
]}
]
}
]
}
]
}
